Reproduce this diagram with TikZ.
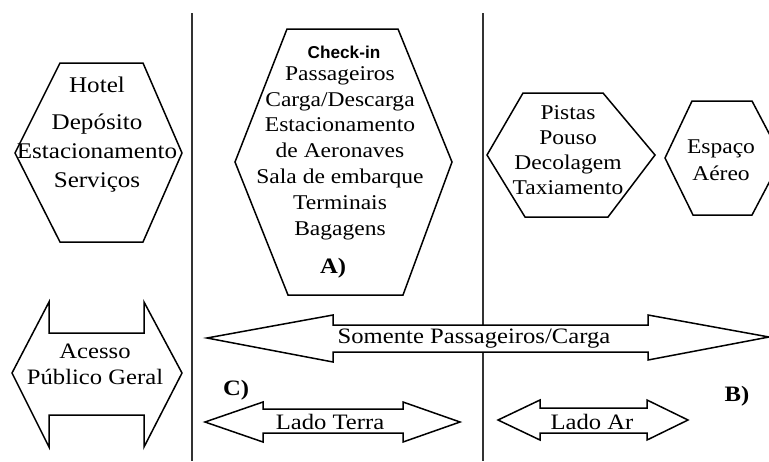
\documentclass[tikz,border=0pt]{standalone}
\usepackage{fontspec}
\setmainfont{Liberation Serif}[FakeStretch=1.12]
\newfontfamily\chkfont{Liberation Sans}
\tikzset{
  shp/.style={draw=black, line width=0.75pt, fill=white, line join=miter},
  sep/.style={draw=black!80, line width=1pt},
  txt/.style={font=\fontsize{11}{13}\selectfont, align=center, inner sep=0pt},
  lbl/.style={font=\fontsize{11}{13}\selectfont\bfseries, inner sep=0pt}
}
\begin{document}
\begin{tikzpicture}[x=0.5pt, y=-0.5pt]
\useasboundingbox (0,0) rectangle (769,461);
\fill[white] (0,0) rectangle (769,461);
\clip (0,0) rectangle (769,461);

% separators
\coordinate (s1t) at (192,13); \coordinate (s1b) at (192,461);
\coordinate (s2t) at (483,13); \coordinate (s2b) at (483,461);
\draw[sep] (s1t) -- (s1b);
\draw[sep] (s2t) -- (s2b);

% hexagon 1
\draw[shp] (60,63) -- (143,63) -- (182,153) -- (143,242) -- (60,242) -- (15,153) -- cycle;
\node[txt, font=\fontsize{11.2}{14.5}\selectfont] (h1) at (97,135) {Hotel\\[4pt]Depósito\\Estacionamento\\Serviços};

% hexagon 2
\draw[shp] (287,29) -- (398,29) -- (452,162) -- (403,295) -- (288,295) -- (235,162) -- cycle;
\node[inner sep=0pt, font=\chkfont\fontsize{8.6}{10}\selectfont\bfseries] (chk) at (344,52) {Check-in};
\node[txt, font=\fontsize{10.5}{12.9}\selectfont] (h2) at (340,153) {Passageiros\\Carga/Descarga\\Estacionamento\\de Aeronaves\\Sala de embarque\\Terminais\\Bagagens};
\node[lbl] (A) at (333,268) {A)};

% hexagon 3
\draw[shp] (523,93) -- (603,93) -- (655,155) -- (608,217) -- (525,217) -- (487,155) -- cycle;
\node[txt, font=\fontsize{10.5}{12.5}\selectfont] (h3) at (568,150) {Pistas\\Pouso\\Decolagem\\Taxiamento};

% hexagon 4
\draw[shp] (692,101) -- (752,101) -- (782,158) -- (752,215) -- (693,215) -- (665,158) -- cycle;
\node[txt, font=\fontsize{10.5}{13.5}\selectfont] (h4) at (721,160) {Espaço\\Aéreo};

% Acesso arrow
\draw[shp] (12,373) -- (49,302) -- (49,333) -- (144,333) -- (144,302) -- (182,373) -- (144,447) -- (144,415) -- (49,415) -- (49,447) -- cycle;
\node[txt] (ac) at (95,364) {Acesso\\Público Geral};

% big arrow
\draw[shp] (207,338) -- (333,315) -- (333,325) -- (648,325) -- (648,315) -- (769,337) -- (648,360) -- (648,352) -- (333,352) -- (333,362) -- cycle;
\node[txt] (som) at (474,339) {Somente Passageiros/Carga};

% Lado Terra
\draw[shp] (205,422) -- (263,402) -- (263,409) -- (403,409) -- (403,402) -- (460,422) -- (403,442) -- (403,433) -- (263,433) -- (263,442) -- cycle;
\node[txt] (lt) at (330,422) {Lado Terra};

% Lado Ar
\draw[shp] (498,420) -- (540,400) -- (540,408) -- (647,408) -- (647,400) -- (688,420) -- (647,440) -- (647,433) -- (540,433) -- (540,440) -- cycle;
\node[txt] (la) at (592,422) {Lado Ar};

\node[lbl] (C) at (236,390) {C)};
\node[lbl] (B) at (737,396) {B)};
\end{tikzpicture}
\end{document}
